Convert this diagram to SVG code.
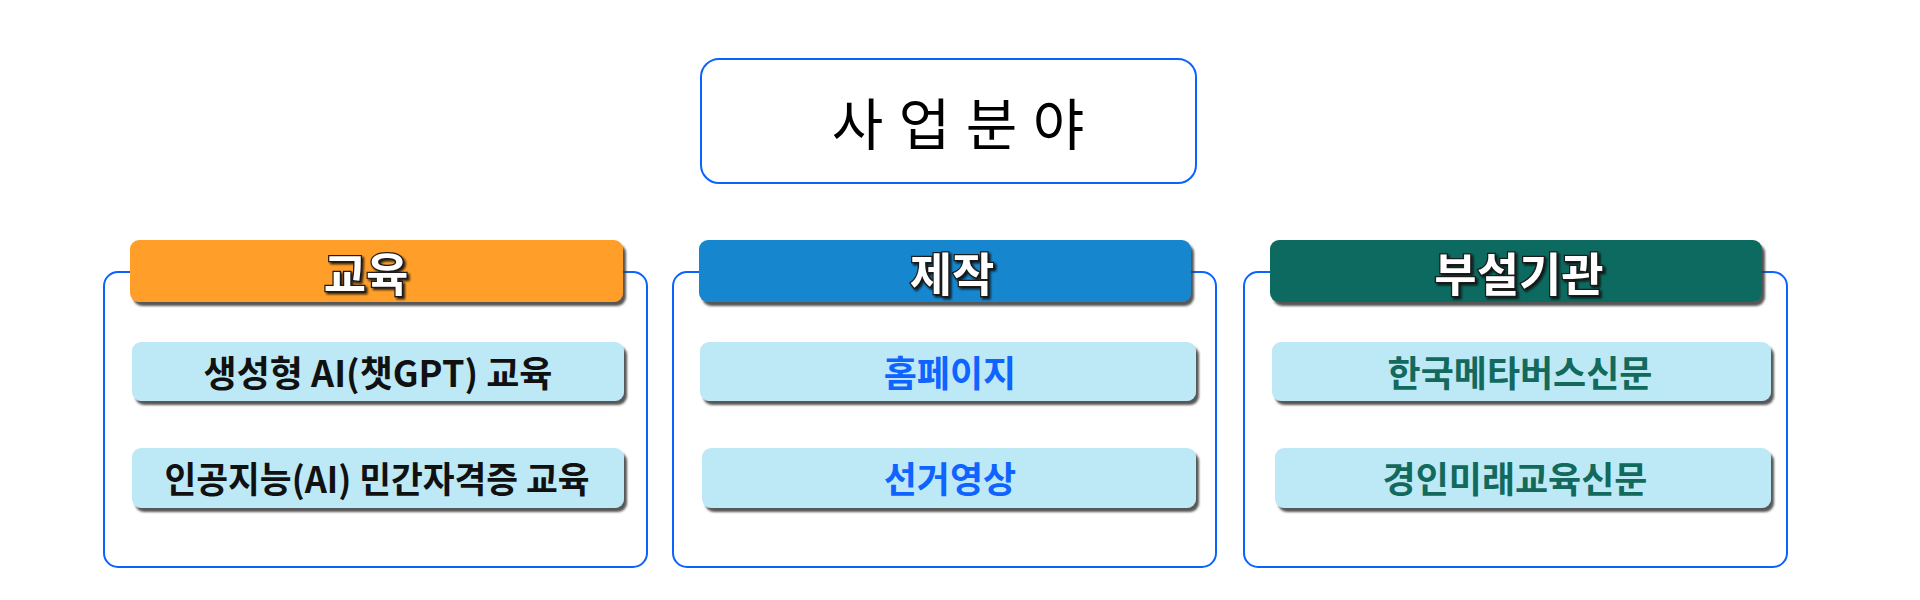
<svg xmlns="http://www.w3.org/2000/svg" width="1920" height="600" viewBox="0 0 1920 600">
  <defs>
    <filter id="sh" x="-5%" y="-20%" width="115%" height="160%">
      <feDropShadow dx="3" dy="4" stdDeviation="1.2" flood-color="#3a3a3a" flood-opacity="0.85"/>
    </filter>
    <filter id="tsh" x="-10%" y="-20%" width="130%" height="150%">
      <feDropShadow dx="2" dy="2" stdDeviation="0.8" flood-color="#111" flood-opacity="0.9"/>
    </filter>
  </defs>
  <style>
    .frame { fill: #ffffff; stroke: #0a62ff; stroke-width: 2; }
    .head { filter: url(#sh); }
    .item { fill: #bde9f6; filter: url(#sh); }
    .title { font-family: "Noto Sans CJK KR", "Noto Sans", sans-serif; font-size: 56px; font-weight: 400; fill: #000; text-anchor: middle; word-spacing: 3px; }
    .htxt { font-family: "Noto Sans CJK KR", "Noto Sans", sans-serif; font-size: 46px; font-weight: 700; fill: #ffffff; stroke: #1a1a1a; stroke-width: 2.5; paint-order: stroke; text-anchor: middle; filter: url(#tsh); }
    .itxt { font-family: "Noto Sans CJK KR", "Noto Sans", sans-serif; font-size: 36px; font-weight: 700; text-anchor: middle; }
    .c1 { fill: #111111; }
    .c2 { fill: #0f63ff; }
    .c3 { fill: #12695c; }
  </style>
  <rect width="1920" height="600" fill="#ffffff"/>

  <g id="root">
    <rect class="frame" x="701" y="59" width="495" height="124" rx="18"/>
    <text class="title" x="958" y="145">사 업 분 야</text>
  </g>

  <g id="connectors"></g>

  <g id="col-education">
    <rect class="frame" x="104" y="272" width="543" height="295" rx="14"/>
    <rect class="head" x="130" y="240" width="493" height="62" rx="9" fill="#ff9f2a"/>
    <text class="htxt" x="366" y="291">교육</text>
    <g id="edu-1">
      <rect class="item" x="132" y="342" width="492" height="59" rx="9"/>
      <text class="itxt c1" x="378" y="387">생성형 AI(챗GPT) 교육</text>
    </g>
    <g id="edu-2">
      <rect class="item" x="132" y="448" width="492" height="60" rx="9"/>
      <text class="itxt c1" x="377" y="493" textLength="425" lengthAdjust="spacingAndGlyphs">인공지능(AI) 민간자격증 교육</text>
    </g>
  </g>

  <g id="col-production">
    <rect class="frame" x="673" y="272" width="543" height="295" rx="14"/>
    <rect class="head" x="699" y="240" width="492" height="62" rx="9" fill="#1387cf"/>
    <text class="htxt" x="952" y="291">제작</text>
    <g id="prod-1">
      <rect class="item" x="700" y="342" width="496" height="59" rx="9"/>
      <text class="itxt c2" x="950" y="387">홈페이지</text>
    </g>
    <g id="prod-2">
      <rect class="item" x="702" y="448" width="494" height="60" rx="9"/>
      <text class="itxt c2" x="950" y="493">선거영상</text>
    </g>
  </g>

  <g id="col-affiliates">
    <rect class="frame" x="1244" y="272" width="543" height="295" rx="14"/>
    <rect class="head" x="1270" y="240" width="492" height="62" rx="9" fill="#0f6b60"/>
    <text class="htxt" x="1519" y="291">부설기관</text>
    <g id="aff-1">
      <rect class="item" x="1272" y="342" width="499" height="59" rx="9"/>
      <text class="itxt c3" x="1520" y="387">한국메타버스신문</text>
    </g>
    <g id="aff-2">
      <rect class="item" x="1275" y="448" width="496" height="60" rx="9"/>
      <text class="itxt c3" x="1515" y="493">경인미래교육신문</text>
    </g>
  </g>
</svg>
